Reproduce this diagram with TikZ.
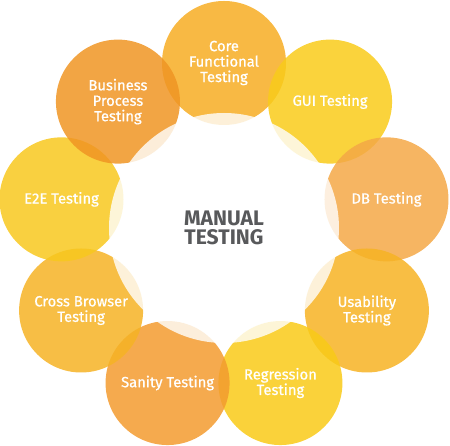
\documentclass[tikz,border=0pt]{standalone}
\usepackage{fontspec}
\usepackage{xcolor}
\usetikzlibrary{positioning}

\setmainfont{Fira Sans}
\newfontfamily\bubblefont[FakeBold=0.8]{Fira Sans}

\definecolor{coreC}{HTML}{F7AD23}
\definecolor{guiC}{HTML}{F9CB1A}
\definecolor{dbC}{HTML}{F4A846}
\definecolor{usabC}{HTML}{F7B323}
\definecolor{regrC}{HTML}{F9CA17}
\definecolor{sanityC}{HTML}{F39B2F}
\definecolor{crossC}{HTML}{F6B324}
\definecolor{etoeC}{HTML}{F8C81E}
\definecolor{busC}{HTML}{F09523}
\definecolor{titleC}{HTML}{58595B}

\tikzset{
  bubble/.style={circle, minimum size=3.1cm, inner sep=0pt, fill opacity=0.85,
    text opacity=1, text=white, align=center,
    font=\bubblefont\fontsize{10.5}{11}\selectfont},
  hub/.style={circle, minimum size=5.75cm, inner sep=0pt, fill=white,
    fill opacity=0.8, text opacity=1, text=titleC, align=center,
    font=\fontsize{15}{13.5}\selectfont\bfseries}
}

\begin{document}
\begin{tikzpicture}

\useasboundingbox (-5.6,-5.45) rectangle (5.65,5.7);

% ring of testing types
\node[bubble, fill=coreC] (core) at (90:4.125) {Core\\Functional\\Testing};
\node[bubble, fill=guiC] (gui) at (50:4.125) {GUI Testing};
\node[bubble, fill=dbC] (db) at (10:4.125) {DB Testing};
\node[bubble, fill=usabC] (usab) at (-30:4.125) {Usability\\Testing};
\node[bubble, fill=regrC] (regr) at (-70:4.125) {Regression\\Testing};
\node[bubble, fill=sanityC] (sanity) at (-110:4.125) {Sanity Testing};
\node[bubble, fill=crossC] (cross) at (-150:4.125) {Cross Browser\\Testing};
\node[bubble, fill=etoeC] (etoe) at (170:4.125) {E2E Testing};
\node[bubble, fill=busC] (bus) at (130:4.125) {Business\\Process\\Testing};

% centre
\node[hub] (manual) at (0,0) {MANUAL\\TESTING};

\end{tikzpicture}
\end{document}
